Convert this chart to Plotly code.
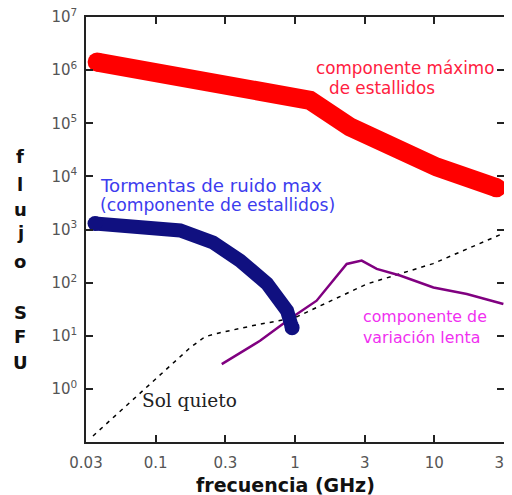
import plotly.graph_objects as go

# ---- data (GHz, SFU) ----
burst_f = [0.038, 0.091, 0.208, 0.475, 0.78, 1.28, 2.48, 5.67, 10.4, 28.0]
burst_s = [1.42e6, 9.2e5, 5.9e5, 4.6e5, 3.5e5, 2.7e5, 8.5e4, 2.9e4, 1.5e4, 6.1e3]

storm_f = [0.0367, 0.0655, 0.150, 0.258, 0.403, 0.629, 0.877, 0.953]
storm_s = [1300, 1190, 958, 569, 260, 96, 29.6, 14.2]

slow_f = [0.298, 0.561, 0.920, 1.43, 2.35, 3.01, 3.86, 5.67, 9.85, 17.1, 31.3]
slow_s = [2.92, 8.05, 20.9, 45.7, 225, 260, 181, 136, 81, 61, 39.6]

quiet_f = [0.0355, 0.091, 0.176, 0.226, 0.29, 0.534, 1.0, 3.27, 9.8, 31.1]
quiet_s = [0.13, 1.24, 5.9, 9.6, 11.4, 16.1, 21.9, 94, 228, 841]

x_tickvals = [10**-1.5, 10**-1, 10**-0.5, 1, 10**0.5, 10, 10**1.5]
x_ticktext = ["0.03", "0.1", "0.3", "1", "3", "10", "30"]
y_exps = [0, 1, 2, 3, 4, 5, 6, 7]

OFF = 8  # page body margin
PW, PH = 418, 425
W, H = 512, 495 - OFF
ML, MT = 86 - OFF, 17 - OFF
MR = W - ML - PW
MB = H - MT - PH


def end_sizes(n, s):
    return [s] + [0] * (n - 2) + [s]


fig = go.Figure()

fig.add_trace(go.Scatter(x=quiet_f, y=quiet_s, mode="lines",
                         line=dict(color="black", width=1.5, dash="4px,5px"),
                         hoverinfo="skip"))
fig.add_trace(go.Scatter(x=slow_f, y=slow_s, mode="lines",
                         line=dict(color="#800080", width=2.5),
                         hoverinfo="skip"))
fig.add_trace(go.Scatter(x=storm_f, y=storm_s, mode="lines+markers",
                         line=dict(color="#101080", width=14),
                         marker=dict(color="#101080", size=end_sizes(len(storm_f), 15),
                                     opacity=1, line=dict(width=0)),
                         hoverinfo="skip"))
fig.add_trace(go.Scatter(x=burst_f, y=burst_s, mode="lines+markers",
                         line=dict(color="#ff0000", width=19),
                         marker=dict(color="#ff0000", size=end_sizes(len(burst_f), 19),
                                     opacity=1, line=dict(width=0)),
                         hoverinfo="skip"))

axis_common = dict(type="log", showline=True, mirror="ticks", linecolor="#222",
                   linewidth=1.5, ticks="inside", ticklen=7, tickwidth=1.5,
                   tickcolor="#222", showgrid=False, zeroline=False, automargin=False,
                   ticklabeloverflow="allow",
                   tickfont=dict(family="DejaVu Sans", size=15, color="#555"))

fig.update_xaxes(range=[-1.5, 1.5], tickvals=x_tickvals, ticktext=x_ticktext,
                 ticklabelstandoff=6, **axis_common)
fig.update_yaxes(range=[-1, 7], tickvals=[10**e for e in y_exps],
                 ticktext=["10<sup>%d</sup>" % e for e in y_exps],
                 ticklabelstandoff=4, **axis_common)


def px(xp):
    return (xp - OFF - ML) / PW


def py(yp):
    return 1 - (yp - OFF - MT) / PH


ann = []


def text(t, x, y, color, size, family="DejaVu Sans", xanchor="left", bold=False):
    ann.append(dict(text=("<b>%s</b>" % t) if bold else t, xref="paper", yref="paper",
                    x=px(x), y=py(y), xanchor=xanchor, yanchor="middle",
                    showarrow=False, font=dict(family=family, size=size, color=color)))


text("componente máximo", 314, 68, "#ff2040", 16.8)
text("de estallidos", 327, 88, "#ff2040", 16.8)
text("Tormentas de ruido max", 98, 185, "#3c3cee", 18.2)
text("(componente de estallidos)", 98, 205, "#3c3cee", 17.2)
text("componente de", 361, 316, "#f030f0", 15.8)
text("variación lenta", 361, 337, "#f030f0", 15.8)
text("Sol quieto", 140, 400, "#222", 18.5, family="DejaVu Serif")
text("frecuencia (GHz)", 285, 485, "#111", 19, xanchor="center", bold=True)

letters = [("f", 157), ("l", 184), ("u", 209), ("j", 233), ("o", 261),
           ("S", 312), ("F", 336), ("U", 362)]
for ch, yy in letters:
    text(ch, 20, yy, "#111", 18, xanchor="center", bold=True)

fig.update_layout(width=W, height=H, margin=dict(l=ML, r=MR, t=MT, b=MB),
                  paper_bgcolor="white", plot_bgcolor="white", showlegend=False,
                  annotations=ann)

fig.write_html("out.html")
